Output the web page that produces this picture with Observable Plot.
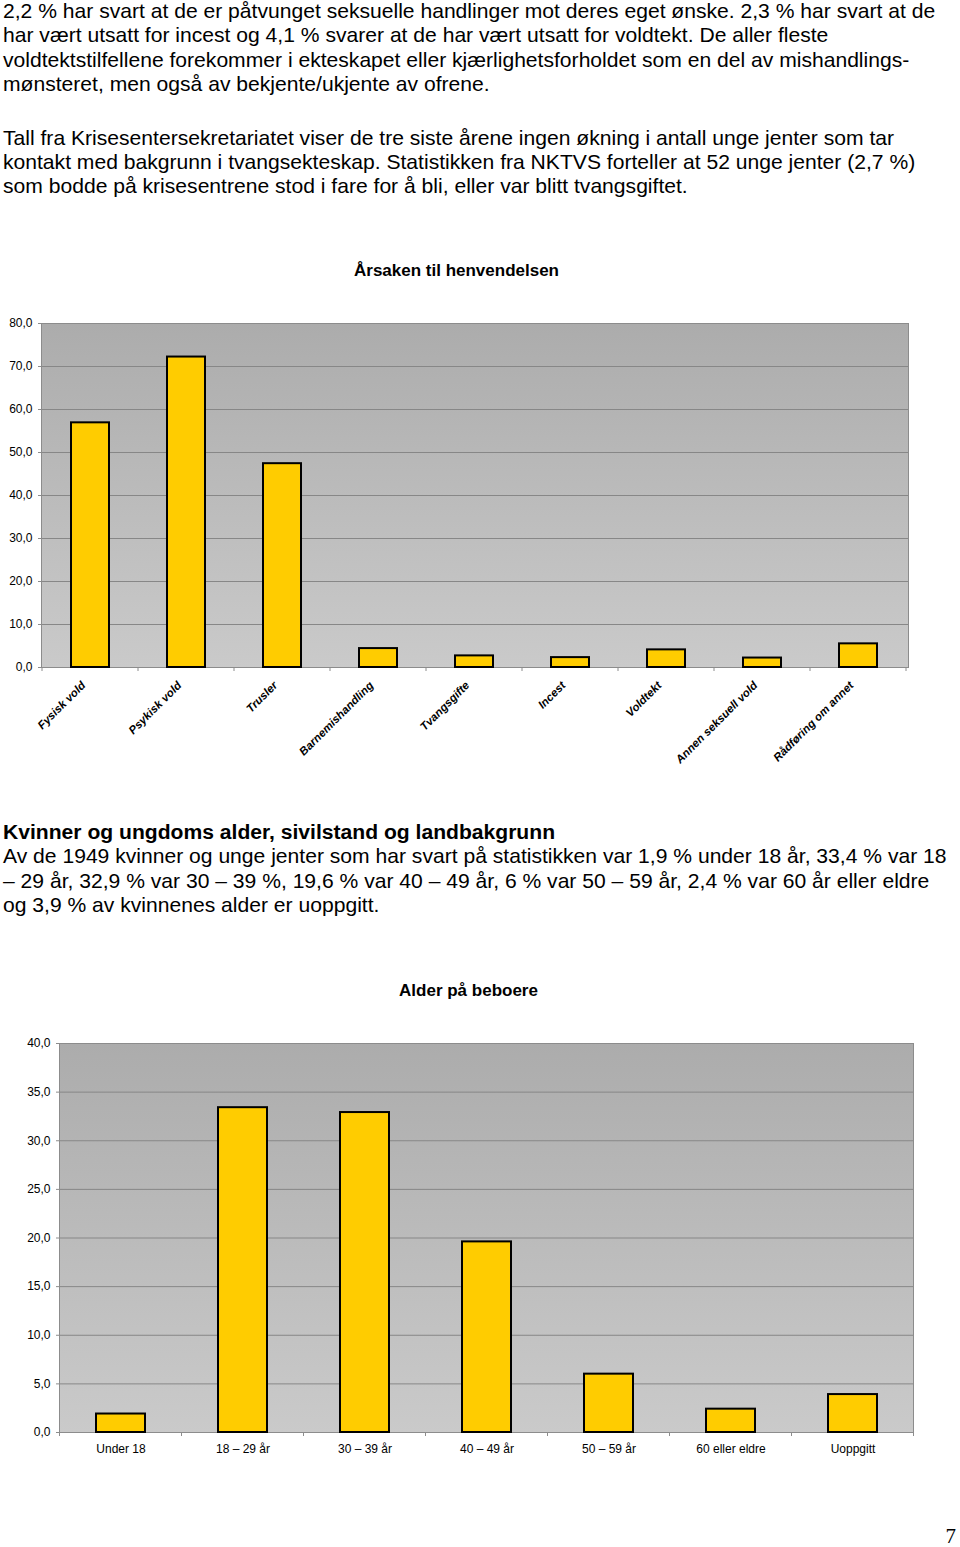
<!DOCTYPE html>
<html>
<head>
<meta charset="utf-8">
<script src="https://cdn.jsdelivr.net/npm/d3@7"></script>
<script src="https://cdn.jsdelivr.net/npm/@observablehq/plot@0.6"></script>
<style>
html, body { margin: 0; padding: 0; background: #fff; }
#page { position: relative; width: 960px; height: 1547px; overflow: hidden; font-family: "Liberation Sans", Arial, sans-serif; color: #000; }
.txt { position: absolute; left: 3px; font-size: 21.1px; line-height: 24.4px; white-space: nowrap; }
.title { position: absolute; font-size: 17px; font-weight: bold; line-height: 17px; white-space: nowrap; transform: translateX(-50%); }
.chart { position: absolute; left: 0; }
#pnum { position: absolute; right: 4px; top: 1528px; font-family: "Liberation Serif", "DejaVu Serif", serif; font-size: 21px; line-height: 16px; }
</style>
</head>
<body>
<div id="page">
  <div class="txt" style="top:-1px">2,2 % har svart at de er påtvunget seksuelle handlinger mot deres eget ønske. 2,3 % har svart at de<br>har vært utsatt for incest og 4,1 % svarer at de har vært utsatt for voldtekt. De aller fleste<br>voldtektstilfellene forekommer i ekteskapet eller kjærlighetsforholdet som en del av mishandlings-<br>mønsteret, men også av bekjente/ukjente av ofrene.</div>
  <div class="txt" style="top:125.5px">Tall fra Krisesentersekretariatet viser de tre siste årene ingen økning i antall unge jenter som tar<br>kontakt med bakgrunn i tvangsekteskap. Statistikken fra NKTVS forteller at 52 unge jenter (2,7 %)<br>som bodde på krisesentrene stod i fare for å bli, eller var blitt tvangsgiftet.</div>
  <div class="title" style="left:456.5px; top:261.6px">Årsaken til henvendelsen</div>
  <div class="chart" id="chart1" style="top:300px"></div>
  <div class="txt" style="top:820px"><b>Kvinner og ungdoms alder, sivilstand og landbakgrunn</b><br>Av de 1949 kvinner og unge jenter som har svart på statistikken var 1,9 % under 18 år, 33,4 % var 18<br>– 29 år, 32,9 % var 30 – 39 %, 19,6 % var 40 – 49 år, 6 % var 50 – 59 år, 2,4 % var 60 år eller eldre<br>og 3,9 % av kvinnenes alder er uoppgitt.</div>
  <div class="title" style="left:468.5px; top:981.6px">Alder på beboere</div>
  <div class="chart" id="chart2" style="top:1020px"></div>
  <div id="pnum">7</div>
</div>
<script>
// ---- Data ----
const cats1 = ["Fysisk vold", "Psykisk vold", "Trusler", "Barnemishandling", "Tvangsgifte", "Incest", "Voldtekt", "Annen seksuell vold", "Rådføring om annet"];
const vals1 = [56.9, 72.2, 47.4, 4.4, 2.7, 2.3, 4.1, 2.2, 5.5];
const yTicks1 = [0, 10, 20, 30, 40, 50, 60, 70, 80];

const cats2 = ["Under 18", "18 – 29 år", "30 – 39 år", "40 – 49 år", "50 – 59 år", "60 eller eldre", "Uoppgitt"];
const vals2 = [1.9, 33.4, 32.9, 19.6, 6.0, 2.4, 3.9];
const yTicks2 = [0, 5, 10, 15, 20, 25, 30, 35, 40];

const fmt = d => d.toFixed(1).replace(".", ",");
const FONT = "'Liberation Sans', Arial, sans-serif";
const GRID = "#878787";
const EDGE = "#8c8c8c";

function gradientDefs(id) {
  return () => {
    const defs = d3.create("svg:defs");
    const g = defs.append("linearGradient").attr("id", id)
      .attr("x1", 0).attr("y1", 0).attr("x2", 0).attr("y2", 1);
    g.append("stop").attr("offset", "0%").attr("stop-color", "#acacac");
    g.append("stop").attr("offset", "100%").attr("stop-color", "#cacaca");
    return defs.node();
  };
}

function boundaryTicks(len, color) {
  return (index, scales, values, dims) => {
    const x = scales.x;
    const bw = x.bandwidth();
    const step = x.step ? x.step() : bw / 0.4;
    const dom = x.domain();
    const y0 = dims.height - dims.marginBottom;
    const g = d3.create("svg:g").attr("stroke", color).attr("stroke-width", 1);
    const xs = dom.map(d => x(d) + bw / 2 - step / 2);
    xs.push(x(dom[dom.length - 1]) + bw / 2 + step / 2);
    for (const xv of xs) {
      g.append("line").attr("x1", xv).attr("x2", xv).attr("y1", y0).attr("y2", y0 + len);
    }
    return g.node();
  };
}

const data1 = cats1.map((c, i) => ({c, v: vals1[i]}));
const data2 = cats2.map((c, i) => ({c, v: vals2[i]}));

const chart1 = Plot.plot({
  width: 960, height: 480,
  marginLeft: 41, marginRight: 52, marginTop: 23, marginBottom: 113,
  style: {fontFamily: FONT, fontSize: "12px", background: "transparent", color: "#000", overflow: "visible"},
  x: {domain: cats1, paddingInner: 0.6, paddingOuter: 0.3, label: null, axis: null},
  y: {domain: [0, 80], label: null, axis: null},
  marks: [
    gradientDefs("bg1"),
    Plot.frame({fill: "url(#bg1)", stroke: "none"}),
    Plot.gridY(yTicks1, {stroke: GRID, strokeOpacity: 1}),
    Plot.frame({stroke: EDGE, fill: "none"}),
    boundaryTicks(4, EDGE),
    Plot.axisY(yTicks1, {tickFormat: fmt, tickSize: 3, tickPadding: 6, stroke: EDGE, fill: "#000", fontSize: 12}),
    Plot.axisX({tickSize: 0, tickPadding: 16, dx: -7, tickRotate: -45, fontSize: 11.4, fontWeight: "bold", fontStyle: "italic", fill: "#000"}),
    Plot.barY(data1, {x: "c", y: "v", fill: "#FFCC00", stroke: "#000", strokeWidth: 2})
  ]
});
document.getElementById("chart1").appendChild(chart1);

const chart2 = Plot.plot({
  width: 960, height: 450,
  marginLeft: 59, marginRight: 47, marginTop: 23, marginBottom: 38,
  style: {fontFamily: FONT, fontSize: "12px", background: "transparent", color: "#000", overflow: "visible"},
  x: {domain: cats2, paddingInner: 0.6, paddingOuter: 0.3, label: null, axis: null},
  y: {domain: [0, 40], label: null, axis: null},
  marks: [
    gradientDefs("bg2"),
    Plot.frame({fill: "url(#bg2)", stroke: "none"}),
    Plot.gridY(yTicks2, {stroke: GRID, strokeOpacity: 1}),
    Plot.frame({stroke: EDGE, fill: "none"}),
    boundaryTicks(4, EDGE),
    Plot.axisY(yTicks2, {tickFormat: fmt, tickSize: 3, tickPadding: 6, stroke: EDGE, fill: "#000", fontSize: 12}),
    Plot.axisX({tickSize: 0, tickPadding: 12, fontSize: 12, fill: "#000"}),
    Plot.barY(data2, {x: "c", y: "v", fill: "#FFCC00", stroke: "#000", strokeWidth: 2})
  ]
});
document.getElementById("chart2").appendChild(chart2);
</script>
</body>
</html>
